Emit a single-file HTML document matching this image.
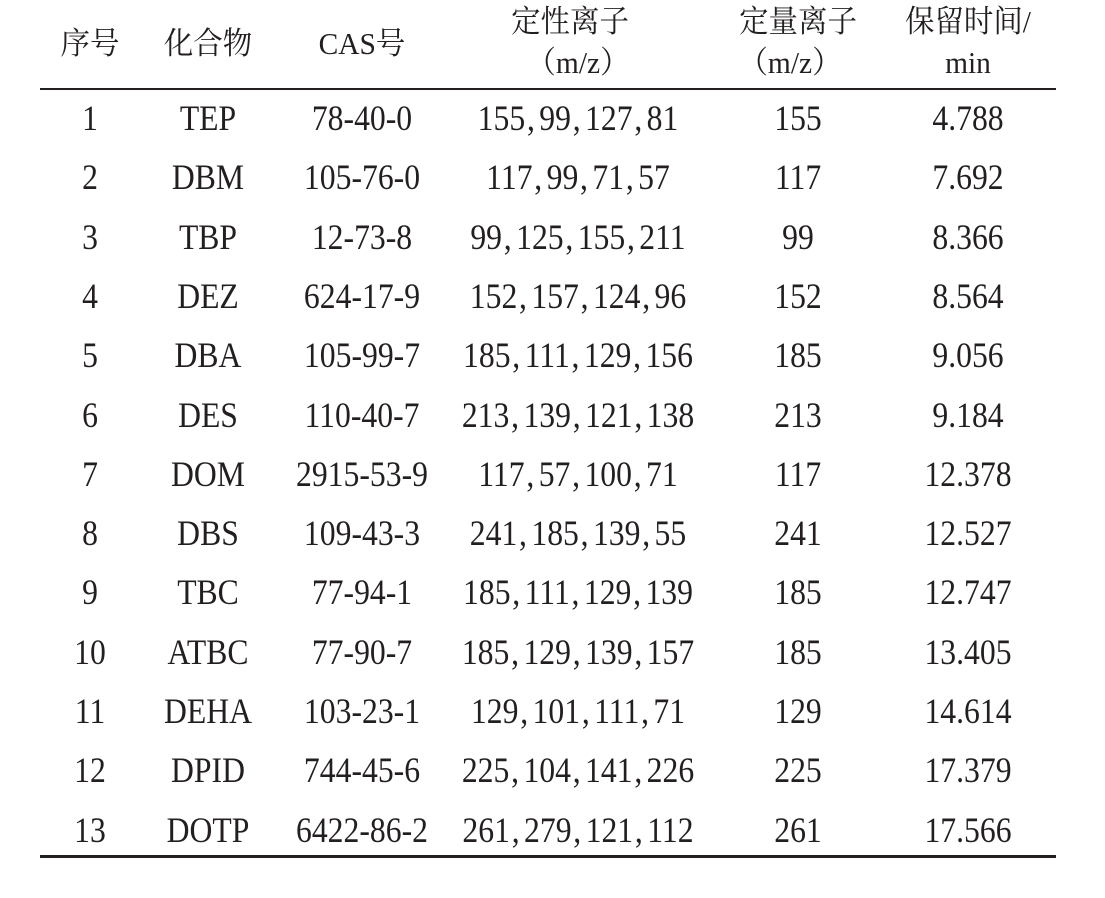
<!DOCTYPE html>
<html><head><meta charset="utf-8"><style>
body{margin:0;width:1105px;height:898px;background:#fff;position:relative;overflow:hidden;color:#231f20;font-family:"Liberation Serif","Noto Serif CJK SC",serif;}
.t{position:absolute;font-size:36px;line-height:36px;white-space:nowrap;transform:translate(-50%,-50%) scaleX(0.88);}
.h{font-size:31px;transform:translate(-50%,-50%) scaleX(0.95);}
.c{margin:0 5px 0 2px;}
.rule{position:absolute;left:40px;width:1016px;background:#231f20;}
</style></head><body>
<div class="rule" style="top:88px;height:1.5px"></div>
<div class="rule" style="top:855px;height:2.5px"></div>
<div class="t h" style="left:90px;top:44px">序号</div>
<div class="t h" style="left:208px;top:44px">化合物</div>
<div class="t h" style="left:362px;top:44px">CAS号</div>
<div class="t h" style="left:570px;top:22px">定性离子</div>
<div class="t h" style="left:578px;top:63px">（m/z）</div>
<div class="t h" style="left:798px;top:22px">定量离子</div>
<div class="t h" style="left:790px;top:63px">（m/z）</div>
<div class="t h" style="left:968px;top:22px">保留时间/</div>
<div class="t h" style="left:968px;top:63px">min</div>
<div id="rows"></div>
<script>
var d=[["1","TEP","78-40-0","155,99,127,81","155","4.788"],["2","DBM","105-76-0","117,99,71,57","117","7.692"],["3","TBP","12-73-8","99,125,155,211","99","8.366"],["4","DEZ","624-17-9","152,157,124,96","152","8.564"],["5","DBA","105-99-7","185,111,129,156","185","9.056"],["6","DES","110-40-7","213,139,121,138","213","9.184"],["7","DOM","2915-53-9","117,57,100,71","117","12.378"],["8","DBS","109-43-3","241,185,139,55","241","12.527"],["9","TBC","77-94-1","185,111,129,139","185","12.747"],["10","ATBC","77-90-7","185,129,139,157","185","13.405"],["11","DEHA","103-23-1","129,101,111,71","129","14.614"],["12","DPID","744-45-6","225,104,141,226","225","17.379"],["13","DOTP","6422-86-2","261,279,121,112","261","17.566"]];
var xs=[90,208,362,578,798,968],h="";
d.forEach(function(r,i){var y=118+i*59.3;r.forEach(function(v,j){if(j==3)v=v.split(",").join('<span class="c">,</span>');h+='<div class="t" style="left:'+xs[j]+'px;top:'+y+'px">'+v+'</div>';});});
document.getElementById("rows").innerHTML=h;
</script>
</body></html>
